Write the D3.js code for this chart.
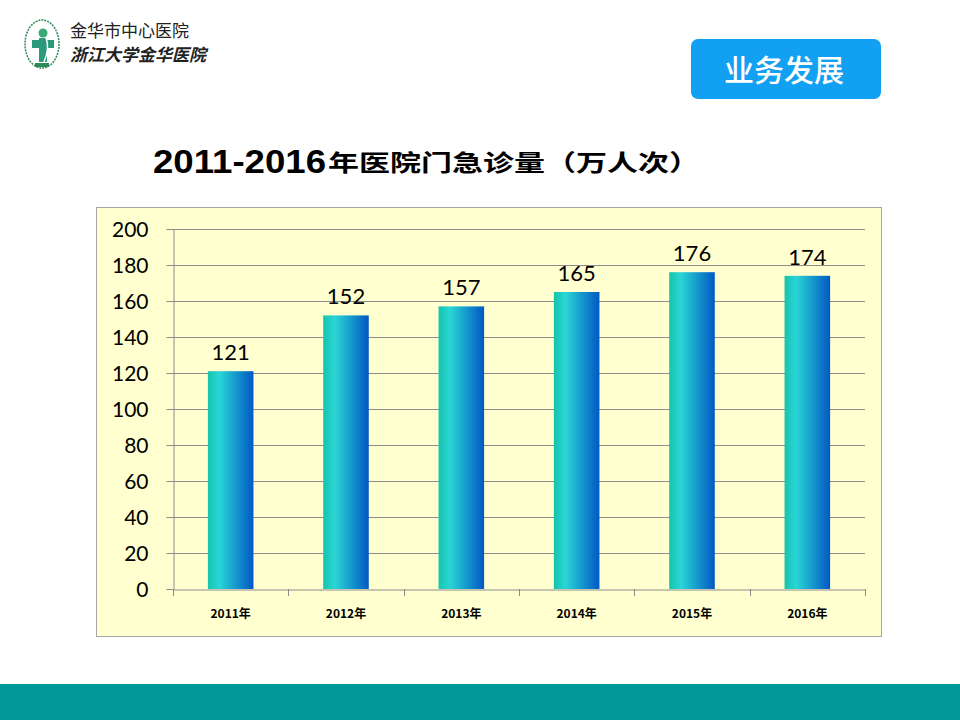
<!DOCTYPE html>
<html><head><meta charset="utf-8">
<script src="https://cdn.jsdelivr.net/npm/d3@7"></script>
<style>body{margin:0;background:#fff}svg{display:block}</style>
</head><body>
<script>
const categories = ["2011年","2012年","2013年","2014年","2015年","2016年"];
const values = [121,152,157,165,176,174];
const yTicks = [0,20,40,60,80,100,120,140,160,180,200];
const titleNum = "2011-2016";
const titleCjk = "年医院门急诊量（万人次）";

const W=960,H=720;
const svg=d3.select("body").append("svg").attr("width",W).attr("height",H);
const defs=svg.append("defs");
const g1=defs.append("linearGradient").attr("id","barg").attr("x1","0").attr("x2","1").attr("y1","0").attr("y2","0");
g1.append("stop").attr("offset","0%").attr("stop-color","#14c4ac");
g1.append("stop").attr("offset","25%").attr("stop-color","#2ad6d6");
g1.append("stop").attr("offset","100%").attr("stop-color","#0058c4");

// logo
const logo=svg.append("g");
logo.append("ellipse").attr("cx",42).attr("cy",44).attr("rx",17).attr("ry",24).attr("fill","none").attr("stroke","#2e8b57").attr("stroke-width",1.5).attr("stroke-dasharray","2,1");
logo.append("circle").attr("cx",43).attr("cy",33).attr("r",4.5).attr("fill","#3aaa7a");
logo.append("rect").attr("x",32).attr("y",40).attr("width",22).attr("height",8).attr("fill","#2a9a7a");
logo.append("rect").attr("x",39).attr("y",38).attr("width",8).attr("height",24).attr("fill","#2a9a7a");
logo.append("path").attr("d","M46,38 Q50,48 44,62").attr("stroke","#fff").attr("stroke-width",1.5).attr("fill","none");
logo.append("rect").attr("x",35).attr("y",63).attr("width",14).attr("height",4).attr("fill","#2e8b57");
logo.append("text").attr("x",70).attr("y",37).attr("font-family","Noto Sans CJK SC").attr("font-size",17).attr("fill","#222").text("金华市中心医院");
logo.append("text").attr("x",70).attr("y",61).attr("font-family","Noto Sans CJK SC").attr("font-size",17).attr("font-style","italic").attr("font-weight","bold").attr("fill","#222").text("浙江大学金华医院");

// button
svg.append("rect").attr("x",691).attr("y",39).attr("width",190).attr("height",60).attr("rx",7).attr("fill","#12a0f2");
svg.append("text").attr("x",784).attr("y",81).attr("text-anchor","middle").attr("font-family","Noto Sans CJK SC").attr("font-size",30).attr("font-weight",500).attr("fill","#fff").text("业务发展");

// title
svg.append("text").attr("x",153).attr("y",173).attr("fill","#000")
 .attr("font-family","Liberation Sans, Arial").attr("font-weight","bold").attr("font-size",33)
 .attr("textLength",173).attr("lengthAdjust","spacingAndGlyphs").text(titleNum);
svg.append("text").attr("x",328).attr("y",171).attr("fill","#000")
 .attr("font-family","Noto Sans CJK SC").attr("font-weight","bold").attr("font-size",23)
 .attr("textLength",372).attr("lengthAdjust","spacingAndGlyphs").text(titleCjk);

// frame
svg.append("rect").attr("x",96.5).attr("y",207.5).attr("width",785).attr("height",429).attr("fill","#ffffcf").attr("stroke","#a6a6a6").attr("stroke-width",1);

const x=d3.scaleBand().domain(categories).range([173,865]).paddingInner(0.605).paddingOuter(0.3025);
const xb=d3.scaleBand().domain(categories).range([173,865]);
const y=d3.scaleLinear().domain([0,200]).range([589,229]);

// gridlines
svg.append("g").selectAll("line").data(yTicks.filter(d=>d>0)).join("line")
 .attr("x1",173).attr("x2",865).attr("y1",d=>Math.round(y(d))+0.5).attr("y2",d=>Math.round(y(d))+0.5)
 .attr("stroke","#8c8c8c").attr("stroke-width",1);

// y axis
const ya=svg.append("g").attr("transform","translate(173.5,0)").call(d3.axisLeft(y).tickValues(yTicks).tickSize(7).tickPadding(18).tickSizeOuter(0));
ya.select(".domain").attr("stroke","#8c8c8c");
ya.selectAll(".tick line").attr("stroke","#8c8c8c");
ya.selectAll(".tick text").attr("font-family","Lato, Open Sans").attr("font-size",21).attr("fill","#000").attr("dy","0.35em");

// x axis
const xa=svg.append("g").attr("transform","translate(0,589.5)").call(d3.axisBottom(xb).tickSize(0).tickPadding(20).tickSizeOuter(0));
xa.select(".domain").attr("stroke","#8c8c8c");
xa.selectAll(".tick text").attr("font-family","Noto Sans CJK SC").attr("font-weight","bold").attr("font-size",12).attr("fill","#000");
svg.append("g").selectAll("line").data(categories.map(c=>xb(c)).concat([865])).join("line")
 .attr("x1",d=>Math.round(d)+0.5).attr("x2",d=>Math.round(d)+0.5).attr("y1",589).attr("y2",596).attr("stroke","#8c8c8c");

// bars
svg.append("g").selectAll("rect").data(values).join("rect")
 .attr("x",(d,i)=>x(categories[i])).attr("width",x.bandwidth())
 .attr("y",d=>y(d)).attr("height",d=>y(0)-y(d)).attr("fill","url(#barg)");

svg.append("g").selectAll("text").data(values).join("text")
 .attr("x",(d,i)=>x(categories[i])+x.bandwidth()/2).attr("y",d=>y(d)-11)
 .attr("text-anchor","middle").attr("font-family","Lato, Open Sans").attr("font-size",22).attr("fill","#000").text(d=>d);

// bottom band
svg.append("rect").attr("x",0).attr("y",684).attr("width",W).attr("height",36).attr("fill","#009898");
</script>
</body></html>
